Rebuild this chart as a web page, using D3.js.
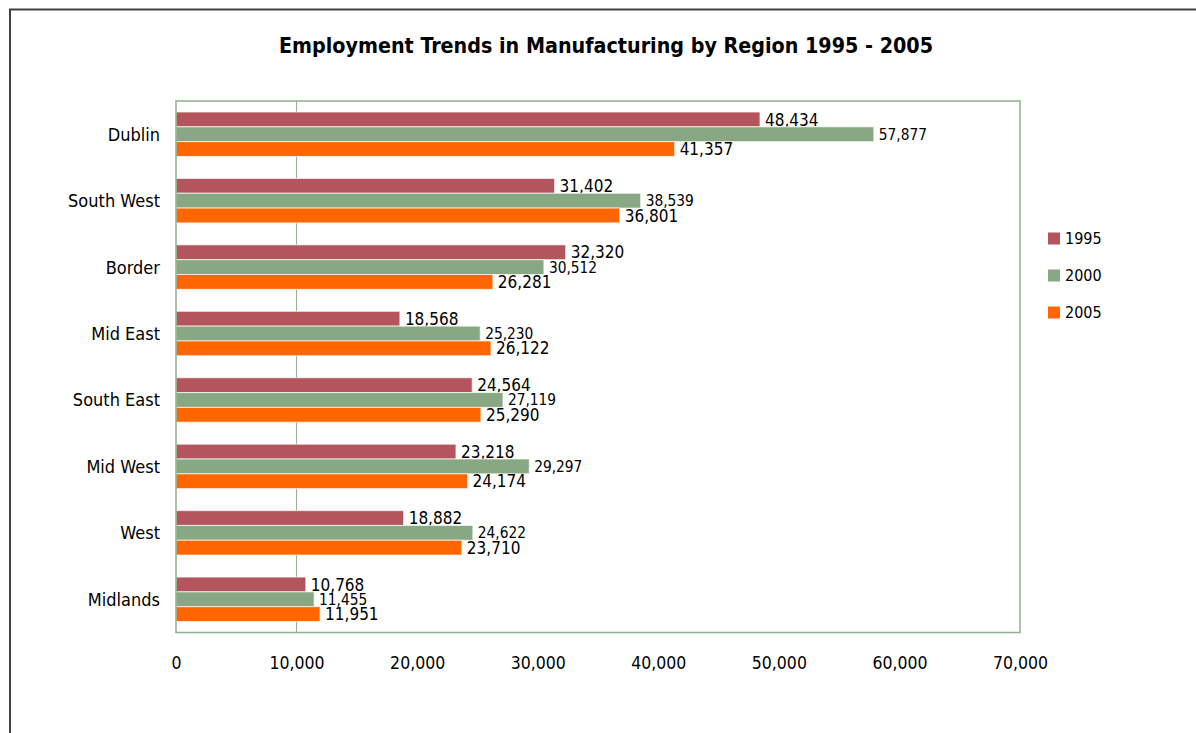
<!DOCTYPE html>
<html>
<head>
<meta charset="utf-8">
<script src="https://cdn.jsdelivr.net/npm/d3@7"></script>
<style>
  html, body { margin: 0; padding: 0; background: #ffffff; }
  svg { display: block; }
  text { font-family: "DejaVu Sans Condensed", "DejaVu Sans", sans-serif; font-stretch: condensed; fill: #000; }
</style>
</head>
<body>
<svg id="chart" width="1196" height="733"></svg>
<script>
// Manufacturing employment by region, three census years
const regions = ["Dublin", "South West", "Border", "Mid East", "South East", "Mid West", "West", "Midlands"];
const years = ["1995", "2000", "2005"];
const values1995 = [48434, 31402, 32320, 18568, 24564, 23218, 18882, 10768];
const values2000 = [57877, 38539, 30512, 25230, 27119, 29297, 24622, 11455];
const values2005 = [41357, 36801, 26281, 26122, 25290, 24174, 23710, 11951];
const xTicks = [0, 10000, 20000, 30000, 40000, 50000, 60000, 70000];
const gridTicks = [10000];
const colors = ["#B4555E", "#87A882", "#FF6600"];

const seriesValues = [values1995, values2000, values2005];

const svg = d3.select("#chart");

// outer frame
svg.append("rect")
  .attr("x", 10).attr("y", 9.5)
  .attr("width", 1300).attr("height", 900)
  .attr("fill", "none").attr("stroke", "#404040").attr("stroke-width", 2);

const plot = { left: 176, top: 101, right: 1020, bottom: 632.5 };

const x = d3.scaleLinear().domain([0, 70000]).range([plot.left, plot.right]);
const y = d3.scaleBand().domain(regions).range([plot.top, plot.bottom]).paddingInner(0).paddingOuter(0);
const groupGap = 22;
const yInner = d3.scaleBand().domain(years)
  .range([groupGap / 2, y.bandwidth() - groupGap / 2]).padding(0);

// title
svg.append("text")
  .attr("x", 606).attr("y", 53)
  .attr("text-anchor", "middle")
  .style("font-size", "21.3px").style("font-weight", "bold")
  .text("Employment Trends in Manufacturing by Region 1995 - 2005");

// gridlines
svg.append("g").selectAll("line").data(gridTicks).join("line")
  .attr("x1", d => x(d)).attr("x2", d => x(d))
  .attr("y1", plot.top).attr("y2", plot.bottom)
  .attr("stroke", "#8DB08A").attr("stroke-width", 1);

// bars
const groups = svg.append("g").selectAll("g").data(regions).join("g")
  .attr("transform", d => `translate(0,${y(d)})`);

years.forEach((yr, si) => {
  groups.append("rect")
    .attr("x", x(0))
    .attr("y", yInner(yr))
    .attr("width", (d, i) => x(seriesValues[si][i]) - x(0))
    .attr("height", yInner.bandwidth())
    .attr("fill", colors[si])
    .attr("stroke", "rgba(255,255,255,0.7)")
    .attr("stroke-width", 1);

  groups.append("text")
    .attr("x", (d, i) => x(seriesValues[si][i]) + 5)
    .attr("y", yInner(yr) + yInner.bandwidth() / 2)
    .attr("dy", "0.36em")
    .style("font-size", si === 1 ? "15.3px" : "17px")
    .text((d, i) => d3.format(",")(seriesValues[si][i]));
});

// plot area border
svg.append("rect")
  .attr("x", plot.left).attr("y", plot.top)
  .attr("width", plot.right - plot.left).attr("height", plot.bottom - plot.top)
  .attr("fill", "none").attr("stroke", "#8DB08A").attr("stroke-width", 1.5);

// category axis labels
svg.append("g").selectAll("text").data(regions).join("text")
  .attr("x", 160)
  .attr("y", d => y(d) + y.bandwidth() / 2)
  .attr("dy", "0.36em")
  .attr("text-anchor", "end")
  .style("font-size", "18px")
  .text(d => d);

// value axis
const xAxis = d3.axisBottom(x).tickValues(xTicks).tickFormat(d3.format(",")).tickSize(0).tickPadding(0);
const axisG = svg.append("g").attr("transform", `translate(0,${plot.bottom})`).call(xAxis);
axisG.select(".domain").remove();
axisG.selectAll("text")
  .attr("y", 30).attr("dy", "0.36em")
  .style("font-size", "17.5px")
  .style("font-family", null);

// legend
const legend = svg.append("g").selectAll("g").data(years).join("g")
  .attr("transform", (d, i) => `translate(1048,${238.5 + i * 37})`);
legend.append("rect")
  .attr("x", 0).attr("y", -6).attr("width", 12).attr("height", 12)
  .attr("fill", (d, i) => colors[i]);
legend.append("text")
  .attr("x", 17).attr("y", 0).attr("dy", "0.36em")
  .style("font-size", "16px")
  .text(d => d);
</script>
</body>
</html>
